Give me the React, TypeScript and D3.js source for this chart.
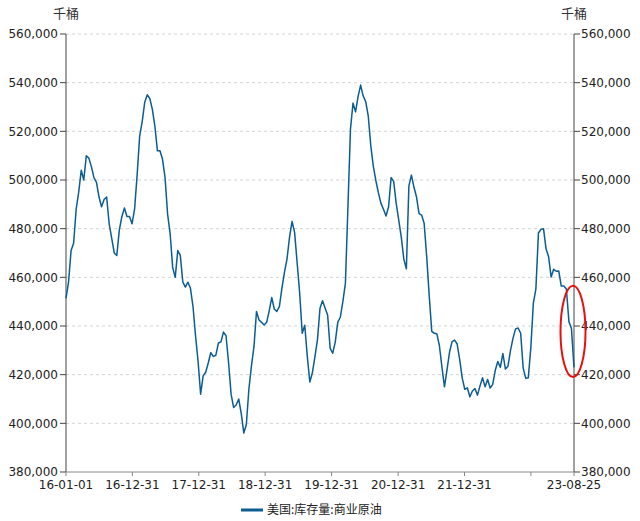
import React from "react";
import * as d3 from "d3";

const START_DATE = "2016-01-01";
const END_DATE = "2023-08-25";

// ~biweekly readings (thousand barrels), evenly spaced from START_DATE to END_DATE
const stockValues: number[] = [
  451.4, 458, 471, 474, 488, 495, 504, 500, 510, 509,
  505.5, 501, 499, 493, 489, 492, 493, 482, 476, 470,
  469, 479.5, 485, 488.5, 485, 485, 482, 488, 502, 518,
  524, 532, 535, 533.5, 529, 522, 512, 512, 508.5, 501,
  486, 478, 464, 460, 471, 469, 458, 456, 458, 455.5,
  448, 436, 425.5, 412, 419.5, 421, 424.8, 429, 427.5, 428,
  433, 433.5, 437.5, 436, 425, 412, 406.5, 407.5, 410, 404,
  396, 399.5, 414, 423.5, 431.5, 446, 442.5, 441.5, 440.4, 441.5,
  446.2, 451.7, 447, 446, 448, 455.5, 462, 467.5, 476.4, 483,
  478.5, 466, 453.5, 437, 440.3, 427.5, 417, 420.8, 427.3, 434.4,
  447.3, 450.4, 447.4, 444.5, 430.8, 428.8, 433.4, 441.6, 443.6, 450,
  457.5, 489, 521, 531.6, 528, 534.4, 539, 534.5, 532.2, 526.3,
  514, 505.6, 499.7, 494.7, 490.4, 488, 485.2, 489, 501, 499.4,
  490.4, 483.5, 476.5, 467.5, 463.5, 497.6, 502, 497, 493, 486.2,
  485.6, 482.2, 468.6, 452.5, 437.8, 437, 436.8, 432, 423.2, 415,
  422, 429.3, 433.6, 434.2, 432.6, 426.2, 418.6, 414, 414.6, 410.9,
  413.3, 414.3, 411.6, 415.4, 418.7, 415, 418, 414.5, 416, 421.8,
  425.4, 423, 428.7, 422.3, 423.5, 430, 435, 438.8, 439.2, 437,
  422.7, 418.5, 418.7, 431, 449.4, 455.3, 478.2, 479.7, 480, 471.7,
  468.5, 460.1, 463.3, 462.5, 462.6, 456.4, 456.4, 455.2, 441.8, 439,
  423,
];

const xTickDates = [
  "2016-01-01", "2016-12-31", "2017-12-31", "2018-12-31", "2019-12-31",
  "2020-12-31", "2021-12-31", "2022-12-31", "2023-08-25",
];
const xTickLabels = [
  "16-01-01", "16-12-31", "17-12-31", "18-12-31", "19-12-31",
  "20-12-31", "21-12-31", "", "23-08-25",
];
const yTicks = [380000, 400000, 420000, 440000, 460000, 480000, 500000, 520000, 540000, 560000];
const unitLabel = "千桶";
const seriesName = "美国:库存量:商业原油";

// annotation ellipse range (value range around the last readings)
const highlightFrom = 419000;
const highlightTo = 456500;

const W = 640;
const H = 521;
const M = { left: 66, right: 574, top: 34, bottom: 472 };
const LINE = "#0b5d92";
const FONT = "'DejaVu Sans', Verdana, sans-serif";
const CJK = "'Noto Sans CJK SC', sans-serif";

export default function App() {
  const parse = d3.utcParse("%Y-%m-%d");
  const t0 = parse(START_DATE)!;
  const t1 = parse(END_DATE)!;
  const n = stockValues.length - 1;
  const data = stockValues.map((v, i) => ({
    date: new Date(t0.getTime() + ((t1.getTime() - t0.getTime()) * i) / n),
    value: v * 1000,
  }));

  const x = d3.scaleUtc().domain([t0, t1]).range([M.left, M.right]);
  const y = d3.scaleLinear().domain([380000, 560000]).range([M.bottom, M.top]);
  const fmt = d3.format(",");

  const line = d3
    .line<{ date: Date; value: number }>()
    .x((d) => x(d.date))
    .y((d) => y(d.value))
    .curve(d3.curveLinear);

  const ellCx = x(t1) - 1;
  const ellCy = (y(highlightFrom) + y(highlightTo)) / 2;
  const ellRy = (y(highlightFrom) - y(highlightTo)) / 2;

  return (
    <svg
      width={W}
      height={H}
      style={{ position: "absolute", left: 0, top: 0, background: "#fff" }}
    >
      {/* gridlines */}
      {yTicks.slice(1).map((t) => (
        <line
          key={"g" + t}
          x1={M.left}
          x2={M.right}
          y1={y(t)}
          y2={y(t)}
          stroke="#d4d4d4"
          strokeDasharray="3,3"
          strokeWidth={1}
        />
      ))}

      {/* left axis */}
      <line x1={M.left} x2={M.left} y1={M.top} y2={M.bottom} stroke="#444" />
      {yTicks.map((t) => (
        <g key={"l" + t}>
          <line x1={M.left - 6} x2={M.left} y1={y(t)} y2={y(t)} stroke="#444" />
          <text
            x={M.left - 8}
            y={y(t)}
            dy="0.35em"
            textAnchor="end"
            fontFamily={FONT}
            fontSize={12}
            fill="#222"
          >
            {fmt(t)}
          </text>
        </g>
      ))}

      {/* right axis */}
      <line x1={M.right} x2={M.right} y1={M.top} y2={M.bottom} stroke="#444" />
      {yTicks.map((t) => (
        <g key={"r" + t}>
          <line x1={M.right} x2={M.right + 6} y1={y(t)} y2={y(t)} stroke="#444" />
          <text
            x={M.right + 7}
            y={y(t)}
            dy="0.35em"
            textAnchor="start"
            fontFamily={FONT}
            fontSize={12}
            fill="#222"
          >
            {fmt(t)}
          </text>
        </g>
      ))}

      {/* bottom axis */}
      <line x1={M.left} x2={M.right} y1={M.bottom} y2={M.bottom} stroke="#888" />
      {xTickDates.map((d, i) => {
        const px = x(parse(d)!);
        return (
          <g key={"x" + d}>
            <line x1={px} x2={px} y1={M.bottom} y2={M.bottom + 4} stroke="#888" />
            {xTickLabels[i] && (
              <text
                x={px}
                y={M.bottom + 17}
                textAnchor="middle"
                fontFamily={FONT}
                fontSize={12}
                fill="#222"
              >
                {xTickLabels[i]}
              </text>
            )}
          </g>
        );
      })}

      {/* unit labels */}
      <text x={M.left} y={18} textAnchor="middle" fontFamily={CJK} fontSize={13} fill="#333">
        {unitLabel}
      </text>
      <text x={M.right} y={18} textAnchor="middle" fontFamily={CJK} fontSize={13} fill="#333">
        {unitLabel}
      </text>

      {/* series */}
      <path d={line(data) || ""} fill="none" stroke={LINE} strokeWidth={1.5} strokeLinejoin="round" />

      {/* annotation */}
      <ellipse cx={ellCx} cy={ellCy} rx={12.5} ry={ellRy} fill="none" stroke="#e8100f" strokeWidth={2} />

      {/* legend */}
      <line x1={241} x2={263} y1={510} y2={510} stroke={LINE} strokeWidth={3} />
      <text x={267} y={510} dy="0.35em" fontFamily={CJK} fontSize={12} fill="#222">
        {seriesName}
      </text>
    </svg>
  );
}
